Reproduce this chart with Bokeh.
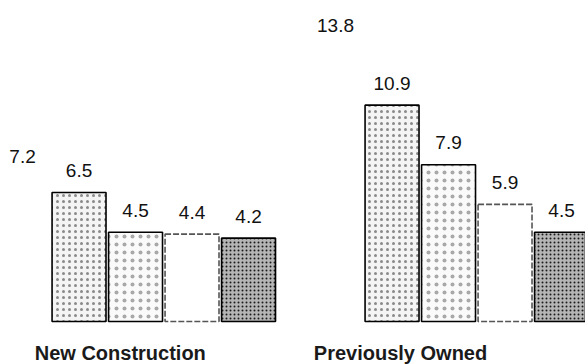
from bokeh.plotting import figure
from bokeh.models import Range1d, ColumnDataSource, Label
from bokeh.embed import file_html
from bokeh.resources import INLINE
from bokeh.core.properties import value

# Median months on market by category (five series per group)
groups = ["New Construction", "Previously Owned"]
series_1 = [7.2, 13.8]
series_2 = [6.5, 10.9]
series_3 = [4.5, 7.9]
series_4 = [4.4, 5.9]
series_5 = [4.2, 4.5]
all_series = [series_1, series_2, series_3, series_4, series_5]

# layout in "slot" units: one bar slot per unit, second group shifted by a gap
slot = 1.0
bar_w = 0.955
group_start = [0.0, 5.54]

# per-series style: fill, hatch, outline
styles = [
    dict(fill_color="white", line_color=None, hatch_pattern=None),
    dict(fill_color="#f4f4f4", line_color="black", hatch_pattern="dot",
         hatch_color="#333333", hatch_scale=6, hatch_weight=1.2, hatch_alpha=0.55),
    dict(fill_color="#fafafa", line_color="black", hatch_pattern="dot",
         hatch_color="#444444", hatch_scale=8, hatch_weight=1.0, hatch_alpha=0.45),
    dict(fill_color="white", line_color="#555555", hatch_pattern=None, line_dash="6 2"),
    dict(fill_color="#b5b5b5", line_color="black", hatch_pattern="dot",
         hatch_color="black", hatch_scale=4, hatch_weight=2.2, hatch_alpha=0.85),
]

px_per_unit = 19.85
baseline_px = 321
H, W = 364, 585
x0 = -0.39
p = figure(width=W, height=H, output_backend="svg", toolbar_location=None,
           x_range=Range1d(x0, x0 + W / 56.5),
           y_range=Range1d(-(H - baseline_px) / px_per_unit, baseline_px / px_per_unit),
           min_border=0)
p.axis.visible = False
p.xgrid.visible = False
p.ygrid.visible = False
p.outline_line_color = None
p.background_fill_color = "white"
p.border_fill_color = "white"

for i, vals in enumerate(all_series):
    xs = [g + i * slot for g in group_start]
    src = ColumnDataSource(dict(x=xs, top=vals, label=[f"{v:.1f}" for v in vals]))
    st = dict(styles[i])
    hatch = st.pop("hatch_pattern")
    kw = dict(x="x", top="top", bottom=0, width=bar_w, source=src, line_width=1.6, **st)
    if hatch:
        kw["hatch_pattern"] = hatch
    p.vbar(**kw)
    p.text(x="x", y="top", text="label", source=src, text_align="center",
           text_baseline="middle", y_offset=-22, text_font=value("Liberation Sans"),
           text_font_size="19px", text_color="#111111")

# group captions beneath the bars
cap_x = [1.73, 6.69]
for gx, name in zip(cap_x, groups):
    p.add_layout(Label(x=gx, y=-1.61, text=name, text_align="center",
                       text_baseline="middle", text_font="Liberation Sans",
                       text_font_size="20px", text_font_style="bold",
                       text_color="#1a1a1a"))

open("out.html", "w").write(file_html(p, INLINE))
